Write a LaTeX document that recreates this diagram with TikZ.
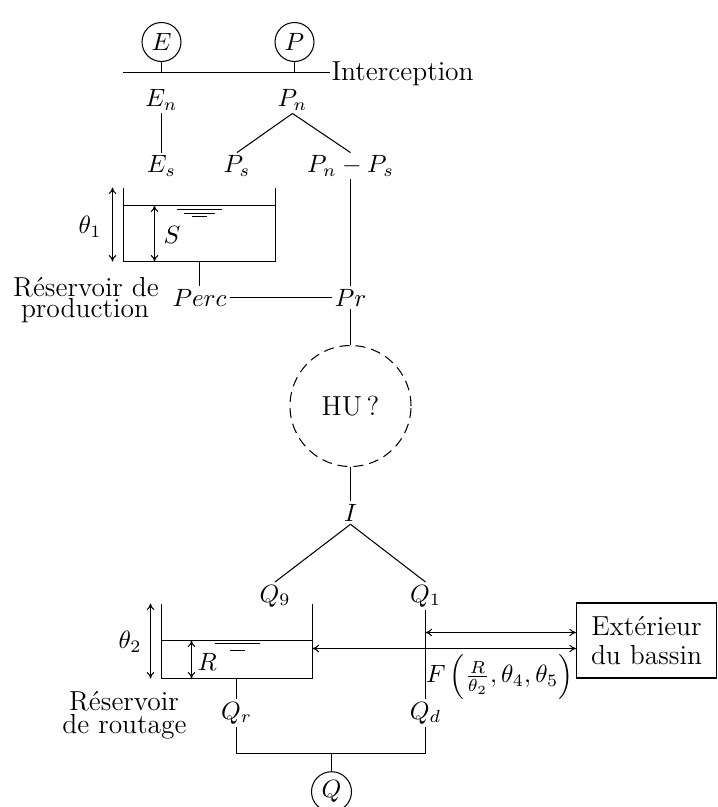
\documentclass[tikz,border=0pt]{standalone}
\usepackage{fontspec}
\usetikzlibrary{arrows.meta}
\begin{document}
\begin{tikzpicture}[x=0.4pt,y=-0.4pt,line width=0.42pt,
  m/.style={inner sep=1pt},
  txt/.style={font=\fontsize{11}{13}\selectfont,inner sep=0pt},
  bub/.style={circle,draw,minimum size=15.6pt,inner sep=0pt},
  dbl/.style={{To[length=2.6pt,width=3pt]}-{To[length=2.6pt,width=3pt]}}]
\useasboundingbox (0,0) rectangle (718,807);

% inputs and interception
\node[bub] (E) at (161.5,42) {$E$};
\node[bub] (P) at (294.5,42) {$P$};
\coordinate (Lleft) at (123,72.5);
\coordinate (Lright) at (330,72.5);
\draw (Lleft) -- (Lright);
\node[txt,anchor=base west] (int) at (331,80.7) {Interception};
\draw (E) -- (E |- Lleft);
\draw (P) -- (P |- Lleft);

\node[m] (En) at (161.5,100) {$E_n$};
\node[m] (Pn) at (292.5,100) {$P_n$};
\node[m] (Es) at (161.5,166) {$E_s$};
\node[m] (Ps) at (237,166) {$P_s$};
\node[m] (PnPs) at (350.5,166) {$P_n-P_s$};
\draw (En) -- (Es);
\draw (Pn.south) -- (Ps.north);
\draw (Pn.south) -- (PnPs.north);

% production reservoir
\draw (123.5,187.5) -- (123.5,261.5) -- (275.5,261.5) -- (275.5,187.5);
\draw (123.5,205.5) -- (275.5,205.5);
\draw (176.7,209.5) -- (221.7,209.5) (184,213.5) -- (215,213.5) (191.7,216.5) -- (206.7,216.5);
\draw[dbl] (112.5,187.5) -- (112.5,261.5);
\node[m] (th1) at (90,226.7) {$\theta_1$};
\draw[dbl] (154.5,205.5) -- (154.5,261.5);
\node[m] (S) at (172,235) {$S$};
\coordinate (res1b) at (199.5,261.5);
\node[m] (Perc) at (199.5,297.5) {$Perc$};
\node[m] (Pr) at (350.5,297.5) {$Pr$};
\draw (res1b) -- (Perc);
\draw (Perc) -- (Pr);
\draw (PnPs) -- (Pr);
\node[txt,anchor=base] (rp1) at (86,296.5) {Réservoir de};
\node[txt,anchor=base] (rp2) at (85,317) {production};

% unit hydrograph
\node[circle,draw,dash pattern=on 4pt off 2.4pt,minimum size=48.4pt,inner sep=0pt,font=\fontsize{11}{13}\selectfont] (HU) at (350.5,406) {HU\,?};
\draw (Pr) -- (HU);
\node[m] (I) at (350.5,512.7) {$I$};
\draw (HU) -- (I);
\node[m] (Q9) at (275,596) {$Q_9$};
\node[m] (Q1) at (425.5,596) {$Q_1$};
\draw (I.south) -- (Q9.north);
\draw (I.south) -- (Q1.north);

% routing reservoir
\draw (161.5,603.5) -- (161.5,678.5) -- (312.5,678.5) -- (312.5,603.5);
\draw (161.5,640.5) -- (312.5,640.5);
\draw (215,643.5) -- (260,643.5) (230,650.5) -- (245,650.5);
\draw[dbl] (150.5,603.5) -- (150.5,678.5);
\node[m] (th2) at (130,641.7) {$\theta_2$};
\draw[dbl] (191.5,640.5) -- (191.5,678.5);
\node[m] (R) at (207.3,661.7) {$R$};
\node[txt,anchor=base] (rr1) at (124,710) {Réservoir};
\node[txt,anchor=base] (rr2) at (124.5,733.5) {de routage};

\node[m] (Qr) at (236.5,713) {$Q_r$};
\node[m] (Qd) at (425.5,713) {$Q_d$};
\coordinate (res2b) at (236.5,678.5);
\draw (res2b) -- (Qr);
\draw (Q1) -- (Qd);
\coordinate (jn) at (331.5,753.5);
\draw (Qr) -- (Qr |- jn) -- (Qd |- jn) -- (Qd);
\node[bub,minimum size=16pt] (Q) at (331.5,791.7) {$Q$};
\draw (jn) -- (Q);

% exchanges with the outside
\node[draw,minimum width=56pt,minimum height=30pt,inner sep=0pt,align=center,font=\fontsize{11}{11.7}\selectfont] (Ext) at (646.5,640.5) {Extérieur\\du bassin};
\coordinate (a1) at (425.5,632.5);
\draw[dbl] (a1) -- (a1 -| Ext.west);
\coordinate (a2) at (312.5,648.5);
\draw[dbl] (a2) -- (a2 -| Ext.west);
\node[m] (F) at (499.7,676.7) {$F\left(\frac{R}{\theta_2},\theta_4,\theta_5\right)$};
\end{tikzpicture}
\end{document}
